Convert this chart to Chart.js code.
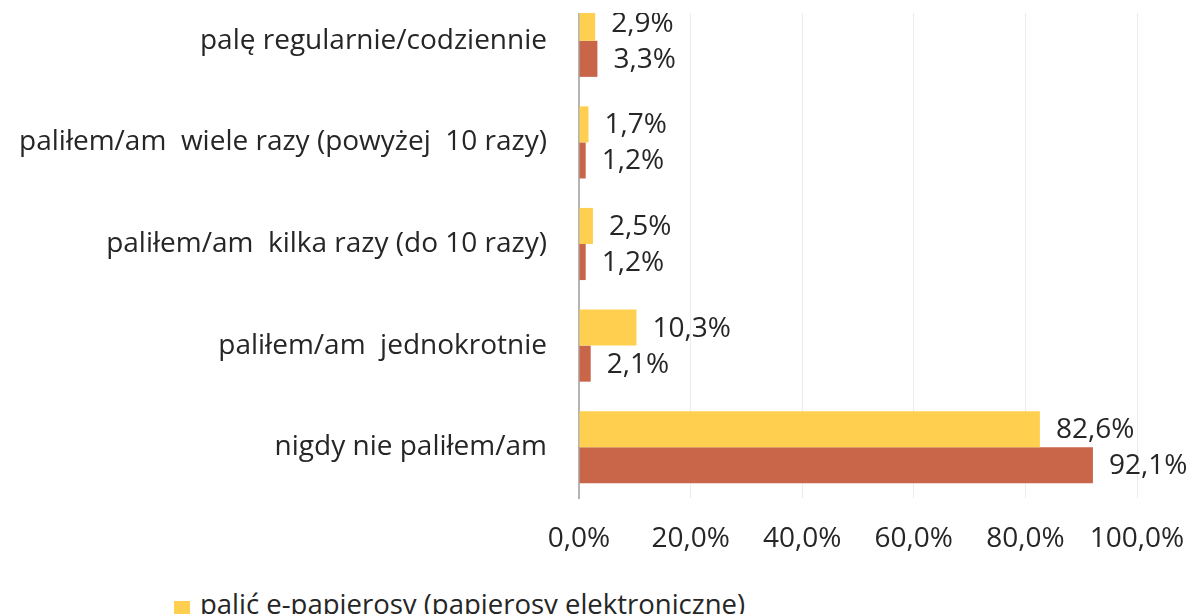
<!DOCTYPE html>
<html>
<head>
<meta charset="utf-8">
<script src="https://cdn.jsdelivr.net/npm/chart.js@4/dist/chart.umd.min.js"></script>
<style>
  body { margin: 0; background: #fff; overflow: hidden; width: 1195px; height: 614px; position: relative; }
  #wrap { position: absolute; left: 0; top: -40px; width: 1195px; height: 600px; }
  #topmask { position: absolute; left: 0; top: 0; width: 1195px; height: 13px; background: #fff; }
  #legend { position: absolute; left: 174px; top: 585px; font: 27.5px "Open Sans", sans-serif; color: #262626; white-space: nowrap; }
  #legend span.box { display: inline-block; width: 16px; height: 16px; background: #FFD04F; margin-right: 10px; vertical-align: middle; position: relative; top: 2px; }
</style>
</head>
<body>
<div id="wrap"><canvas id="c"></canvas></div>
<div id="topmask"></div>
<div id="legend"><span class="box"></span>palić e-papierosy (papierosy elektroniczne)</div>
<script>
const categories = [
    'palę regularnie/codziennie',
    'paliłem/am  wiele razy (powyżej  10 razy)',
    'paliłem/am  kilka razy (do 10 razy)',
    'paliłem/am  jednokrotnie',
    'nigdy nie paliłem/am'
];
const ePapierosy = [2.9, 1.7, 2.5, 10.3, 82.6];
const tradycyjne = [3.3, 1.2, 1.2, 2.1, 92.1];
const xTickLabels = ['0,0%', '20,0%', '40,0%', '60,0%', '80,0%', '100,0%'];

const fontFamily = '"Open Sans", sans-serif';
const textColor = '#262626';

// value labels to the right of each bar
const barLabels = {
    id: 'barLabels',
    afterDatasetsDraw(chart) {
        const ctx = chart.ctx;
        ctx.save();
        ctx.font = '28px ' + fontFamily;
        ctx.fillStyle = textColor;
        ctx.textAlign = 'left';
        ctx.textBaseline = 'middle';
        chart.data.datasets.forEach((ds, i) => {
            chart.getDatasetMeta(i).data.forEach((bar, j) => {
                const txt = ds.data[j].toFixed(1).replace('.', ',') + '%';
                ctx.fillText(txt, bar.x + 16, bar.y + 1);
            });
        });
        ctx.restore();
    }
};

new Chart(document.getElementById('c'), {
    type: 'bar',
    data: {
        labels: categories,
        datasets: [{
            label: 'palić e-papierosy (papierosy elektroniczne)',
            data: ePapierosy,
            backgroundColor: '#FFD04F',
            categoryPercentage: 0.71,
            barPercentage: 1.0
        }, {
            label: 'palić papierosy tradycyjne',
            data: tradycyjne,
            backgroundColor: '#C9664A',
            categoryPercentage: 0.71,
            barPercentage: 1.0
        }]
    },
    options: {
        indexAxis: 'y',
        responsive: true,
        maintainAspectRatio: false,
        animation: false,
        layout: { padding: { top: 30, right: 58, left: 0, bottom: 0 } },
        plugins: {
            legend: { display: false },
            tooltip: { enabled: false }
        },
        scales: {
            x: {
                min: 0,
                max: 100,
                ticks: {
                    stepSize: 20,
                    padding: 24,
                    color: textColor,
                    font: { family: fontFamily, size: 28 },
                    callback: (v, i) => xTickLabels[i]
                },
                grid: { color: '#ECECEC', lineWidth: 1, drawTicks: false },
                border: { display: false },
                afterFit: s => {
                    s.height = 62;
                    s.paddingLeft = 0;
                    s.paddingRight = 0;
                }
            },
            y: {
                ticks: {
                    padding: 32,
                    color: textColor,
                    font: { family: fontFamily, size: 28 }
                },
                grid: { display: false, drawTicks: false },
                border: { display: true, color: '#B4B4B4', width: 2 },
                afterFit: s => {
                    s.width = 579;
                    s.paddingTop = 0;
                    s.paddingBottom = 0;
                }
            }
        }
    },
    plugins: [barLabels]
});
</script>
</body>
</html>
